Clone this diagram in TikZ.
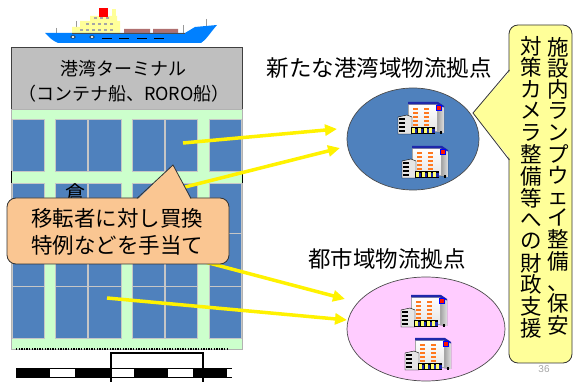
\documentclass[tikz,border=0pt]{standalone}
\usepackage{fontspec}
\newfontfamily\jp{Noto Sans CJK JP}
\setmainfont{Liberation Sans}
\usetikzlibrary{arrows.meta,shapes.geometric}

\definecolor{blockblue}{RGB}{79,129,189}
\definecolor{roadgreen}{RGB}{204,255,204}
\definecolor{hullblue}{RGB}{0,128,255}
\definecolor{deckyellow}{RGB}{255,255,153}
\definecolor{cargobrown}{RGB}{176,112,112}
\definecolor{peach}{RGB}{250,198,146}
\definecolor{notepad}{RGB}{255,255,153}
\definecolor{pinkzone}{RGB}{255,204,255}
\definecolor{portblue}{RGB}{79,129,189}
\definecolor{roofblue}{RGB}{30,40,170}
\definecolor{winorange}{RGB}{255,120,30}
\definecolor{bayyellow}{RGB}{255,255,110}

\tikzset{
  jpt/.style={font=\jp\fontsize{#1}{#1}\selectfont, inner sep=0pt},
  flow/.style={draw=yellow, line width=3.5pt,
    -{Triangle[length=12pt,width=11pt,fill=yellow]}},
  block/.style={fill=blockblue, draw=gray!45, line width=0.8pt},
  pics/depot/.style={code={
    % side wall
    \fill[left color=gray!75, right color=gray!25] (42,6) -- (49,9) -- (49,35) -- (42,34) -- cycle;
    % front wall
    \fill[top color=white, bottom color=gray!20] (13,6) rectangle (42,33);
    \draw[gray!70, line width=0.4pt] (13,6) rectangle (42,33);
    % roof edge
    \fill[roofblue] (13,4) -- (43,4) -- (49,8) -- (49,9.5) -- (42,6.5) -- (13,6.5) -- cycle;
    % windows
    \foreach \r in {10,14,18,22,26}{
      \fill[winorange] (18,\r) rectangle (23,\r+1.6);
      \fill[winorange] (29,\r) rectangle (34,\r+1.6);}
    % logo
    \fill[red!85!orange] (41,7) rectangle (46,12);
    \draw[blue, line width=0.4pt] (41,7) rectangle (46,12);
    % annex
    \fill[gray!20] (3,19) -- (12,17) -- (17,19) -- (17,36) -- (3,36) -- cycle;
    \draw[black, line width=0.4pt] (3,19) -- (12,17) -- (17,19) -- (17,36) -- (3,36) -- cycle;
    \foreach \r in {20.5,24.5,28.5,32.5}{\fill[black] (4,\r) rectangle (10,\r+2);}
    % loading bay
    \fill[black] (16,29) rectangle (40,36);
    \foreach \i in {0,1,2,3}{
      \fill[bayyellow] (17+5.8*\i,30) rectangle (20+5.8*\i,35);
      \fill[roofblue] (20+5.8*\i,31) rectangle (22.3+5.8*\i,35);}
    \fill[black] (45,33) rectangle (47,36);
  }}
}

\begin{document}
\begin{tikzpicture}[x=1pt,y=-1pt]
\useasboundingbox (0,0) rectangle (579,382);

% ---------------- ship ----------------
\draw[gray!80, line width=1pt] (56,28) -- (56,33) (76,21) -- (76,33)
  (183,25) -- (183,33) (206,19) -- (206,27);
\fill[cargobrown] (124,29) rectangle (150,33) (153,29) rectangle (178,33);
\fill[deckyellow] (72,27) rectangle (120,33) (80,21) rectangle (120,27) (90,16) rectangle (117,21);
\fill[deckyellow] (112,9) rectangle (116,17);
\foreach \wx in {80,86,92,98,104,110}{\fill[gray!70] (\wx,29) rectangle (\wx+3,31);}
\foreach \wx in {86,92,98,104,110}{\fill[gray!70] (\wx,23) rectangle (\wx+3,25);}
\foreach \wx in {94,100,106}{\fill[gray!70] (\wx,17.5) rectangle (\wx+3,19.5);}
\fill[red] (99,8) rectangle (108,17);
\fill[hullblue] (45,33) -- (185,33) -- (195,27) -- (217,25)
  .. controls (210,33) and (206,40) .. (201,43) -- (58,43)
  .. controls (52,40) .. (45,33) -- cycle;
\draw[black!70, line width=0.5pt] (72,33) -- (185,33);
\foreach \px in {73,92}{\draw[black, fill=white, line width=0.5pt] (\px,37) ellipse [x radius=2.2, y radius=1.3];}
\foreach \dx in {102,119,137,154}{\fill[black] (\dx,37.8) rectangle (\dx+9.5,39.4);}

% ---------------- terminal ----------------
\node[draw=black!75, fill=gray!50, minimum width=231pt, minimum height=62pt, inner sep=0pt, line width=0.8pt]
  (terminal) at (126.5,78) {};
\node[jpt=18, align=center, text depth=0pt] (terminal-label) at (124,80.5)
  {港湾ターミナル\\[6.5pt]（コンテナ船、RORO船）};

\node[fill=roadgreen, draw=gray!60, minimum width=231pt, minimum height=240pt, inner sep=0pt, line width=0.6pt]
  (yard) at (126.5,229) {};
\foreach \xa/\xb in {12/44,55/87,88/121,132/164,165/197,209/241}{
  \foreach \ya/\yb in {119/171,183/233,233/286,286/338}{
    \draw[block] (\xa,\ya) rectangle (\xb,\yb);}}
\draw[black, line width=0.8pt] (11,171) -- (11,183) (242,171) -- (242,183);
\node[jpt=20] (warehouse) at (75,193) {倉};

% yard edge and scale bar
\draw[black, line width=1.4pt, dash pattern=on 1.4pt off 1.2pt] (16,349) -- (228,349);
\foreach \sa/\sb in {16/50,75/110,134/168,193/227}{\fill[black] (\sa,368.5) rectangle (\sb,377);}
\draw[black, line width=0.7pt] (16,368) -- (232,368) (16,377) -- (232,377);
\draw[black, line width=1.6pt] (111,383) -- (111,353) -- (203,353) -- (203,383);

% ---------------- flows ----------------
\coordinate (s1) at (183,143);
\coordinate (s2) at (185,187);
\coordinate (s3) at (190,258);
\coordinate (s4) at (107,298);
\coordinate (e1) at (337,129);
\coordinate (e2) at (340,148);
\coordinate (e3) at (345,299);
\coordinate (e4) at (347,320);
\draw[flow] (s1) -- (e1);
\draw[flow] (s2) -- (e2);
\draw[flow] (s3) -- (e3);
\draw[flow] (s4) -- (e4);

% ---------------- logistics hubs ----------------
\node[ellipse, draw=black!70, fill=portblue, line width=0.7pt, minimum width=132pt, minimum height=102pt, inner sep=0pt]
  (porthub) at (413,139) {};
\node[ellipse, draw=black!70, fill=pinkzone, line width=0.7pt, minimum width=158pt, minimum height=104pt, inner sep=0pt]
  (cityhub) at (426,329) {};
\pic at (395,98) {depot};
\pic at (399,142) {depot};
\pic at (398,291) {depot};
\pic at (402,334) {depot};

\node[jpt=22.5] (port-title) at (379,67.5) {新たな港湾域物流拠点};
\node[jpt=22.5] (city-title) at (387,259) {都市域物流拠点};

% ---------------- relocation note ----------------
\node[draw=black!80, fill=peach, rounded corners=9pt, minimum width=222pt, minimum height=66pt, inner sep=0pt, line width=0.8pt]
  (relocation) at (118,231) {};
\fill[peach] (137,200) -- (173,165) -- (191,200) -- cycle;
\draw[black!80, line width=0.8pt] (137,198.4) -- (173,165) -- (191,198.4);
\node[jpt=21.5, align=center] (relocation-text) at (117,232)
  {移転者に対し買換\\[5.5pt]特例などを手当て};

% ---------------- support note ----------------
\node[draw=black!80, fill=notepad, rounded corners=9pt, minimum width=63pt, minimum height=338pt, inner sep=0pt, line width=0.8pt]
  (support) at (540.5,194) {};
\fill[notepad] (511,70) -- (473,113) -- (511,160) -- cycle;
\draw[black!80, line width=0.8pt] (509.4,70) -- (473,113) -- (509.4,160);
\foreach \c [count=\i] in {施,設,内,ラ,ン,プ,ウ,ェ,イ,整,備,、,保,安}{
  \node[jpt=21.5] (right-col-\i) at (558,47+21.4*\i-21.4) {\vphantom{国}\c};}
\foreach \c [count=\i] in {対,策,カ,メ,ラ,整,備,等,へ,の,財,政,支,援}{
  \node[jpt=21.5] (left-col-\i) at (531,46+21.7*\i-21.7) {\vphantom{国}\c};}

\node[font=\fontsize{10}{10}\selectfont, text=gray!70, inner sep=0pt] (page) at (544,369) {36};
\end{tikzpicture}
\end{document}
